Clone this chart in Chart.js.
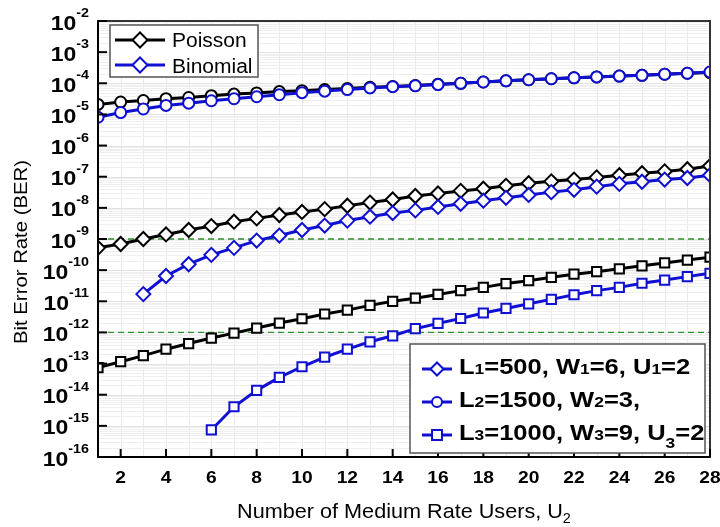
<!DOCTYPE html>
<html>
<head>
<meta charset="utf-8">
<script src="https://cdn.jsdelivr.net/npm/chart.js@4.4.1/dist/chart.umd.min.js"></script>
<style>
  html, body { margin: 0; padding: 0; background: #ffffff; }
  #wrap { width: 720px; height: 527px; position: relative; }
</style>
</head>
<body>
<div id="wrap"><canvas id="ber" width="720" height="527"></canvas></div>
<script>
// Number of medium rate users U2
const users = [1, 2, 3, 4, 5, 6, 7, 8, 9, 10, 11, 12, 13, 14, 15, 16, 17, 18, 19, 20, 21, 22, 23, 24, 25, 26, 27, 28];

// L1=500, W1=6, U1=2 (diamonds)
const poissonL1 = [5.2e-10, 6.9e-10, 1.0e-9, 1.4e-9, 1.95e-9, 2.6e-9, 3.6e-9, 4.6e-9, 5.9e-9, 7.4e-9,
  9.1e-9, 1.17e-8, 1.48e-8, 1.86e-8, 2.4e-8, 2.9e-8, 3.5e-8, 4.1e-8, 5.1e-8, 6.2e-8,
  7.1e-8, 8.1e-8, 9.5e-8, 1.12e-7, 1.29e-7, 1.48e-7, 1.74e-7, 2.2e-7];
const binomialL1Start = 3;
const binomialL1 = [1.7e-11, 6.5e-11, 1.55e-10, 3.1e-10, 5.2e-10, 8.9e-10, 1.29e-9, 1.95e-9,
  2.7e-9, 3.9e-9, 5.2e-9, 6.8e-9, 8.3e-9, 1.07e-8, 1.35e-8, 1.7e-8, 2.1e-8, 2.6e-8,
  3.2e-8, 3.8e-8, 4.8e-8, 5.9e-8, 6.9e-8, 8.1e-8, 9.1e-8, 1.12e-7];

// L2=1500, W2=3 (circles)
const poissonL2 = [2.1e-5, 2.5e-5, 2.8e-5, 3.2e-5, 3.5e-5, 4.0e-5, 4.5e-5, 4.9e-5, 5.4e-5, 5.8e-5,
  6.3e-5, 6.8e-5, 7.4e-5, 7.9e-5, 8.5e-5, 9.3e-5, 1.0e-4, 1.1e-4, 1.2e-4, 1.3e-4,
  1.4e-4, 1.5e-4, 1.6e-4, 1.7e-4, 1.8e-4, 1.95e-4, 2.1e-4, 2.2e-4];
const binomialL2 = [8.1e-6, 1.15e-5, 1.5e-5, 1.95e-5, 2.3e-5, 2.75e-5, 3.2e-5, 3.7e-5, 4.3e-5, 5.0e-5,
  5.6e-5, 6.3e-5, 7.1e-5, 7.8e-5, 8.3e-5, 9.1e-5, 1.0e-4, 1.1e-4, 1.2e-4, 1.3e-4,
  1.4e-4, 1.5e-4, 1.6e-4, 1.7e-4, 1.8e-4, 1.95e-4, 2.1e-4, 2.3e-4];

// L3=1000, W3=9, U3=2 (squares)
const poissonL3 = [7.4e-14, 1.15e-13, 1.8e-13, 2.9e-13, 4.4e-13, 6.6e-13, 9.5e-13, 1.38e-12, 2.0e-12, 2.75e-12,
  3.9e-12, 5.2e-12, 7.4e-12, 1.0e-11, 1.26e-11, 1.66e-11, 2.2e-11, 2.8e-11, 3.7e-11, 4.6e-11,
  5.9e-11, 7.4e-11, 8.9e-11, 1.1e-10, 1.38e-10, 1.7e-10, 2.1e-10, 2.6e-10];
const binomialL3Start = 6;
const binomialL3 = [7.4e-16, 4.1e-15, 1.38e-14, 3.6e-14, 7.9e-14, 1.6e-13, 2.9e-13, 5.0e-13, 7.8e-13,
  1.32e-12, 1.95e-12, 2.8e-12, 4.2e-12, 5.9e-12, 8.3e-12, 1.15e-11, 1.62e-11, 2.2e-11,
  2.8e-11, 3.8e-11, 4.8e-11, 6.2e-11, 7.9e-11];

// BER targets drawn as dashed guides
const thresholds = [1e-9, 1e-12];

// Axis ticks
const yTickExponents = [-2, -3, -4, -5, -6, -7, -8, -9, -10, -11, -12, -13, -14, -15, -16];
const xTickLabels = [2, 4, 6, 8, 10, 12, 14, 16, 18, 20, 22, 24, 26, 28];

const BLACK = '#000000';
const BLUE = '#1010d2';
const GREEN = '#2f8f2f';
const FONT = '"Liberation Sans", Arial, sans-serif';

function pts(values, start) {
  return values.map((v, i) => ({ x: users[i + start - 1], y: v }));
}

function series(values, start, color, style, radius, order) {
  return {
    data: pts(values, start),
    borderColor: color,
    borderWidth: 3,
    pointStyle: style,
    pointRadius: radius,
    pointBorderWidth: 2,
    pointBackgroundColor: '#ffffff',
    pointBorderColor: color,
    tension: 0,
    clip: 0,
    order: order
  };
}

const datasets = [
  series(poissonL1, 1, BLACK, 'rectRot', 7, 2),
  series(binomialL1, binomialL1Start, BLUE, 'rectRot', 7, 1),
  series(poissonL2, 1, BLACK, 'circle', 5.5, 2),
  series(binomialL2, 1, BLUE, 'circle', 5.5, 1),
  series(poissonL3, 1, BLACK, 'rect', 6.5, 2),
  series(binomialL3, binomialL3Start, BLUE, 'rect', 6.5, 1)
];
thresholds.forEach(t => {
  datasets.push({
    data: [{ x: users[0], y: t }, { x: users[users.length - 1], y: t }],
    borderColor: GREEN,
    borderWidth: 1.3,
    borderDash: [6, 4],
    pointRadius: 0,
    order: 5
  });
});

// draw text made of runs (for superscripts/subscripts), with horizontal stretch
function drawRuns(ctx, parts, x, y, align) {
  ctx.textAlign = 'left';
  ctx.textBaseline = 'alphabetic';
  let total = 0;
  parts.forEach(p => {
    ctx.font = p.font;
    p.w = ctx.measureText(p.t).width * (p.sx || 1);
    total += p.w;
  });
  let cx = align === 'center' ? x - total / 2 : align === 'right' ? x - total : x;
  parts.forEach(p => {
    ctx.save();
    ctx.font = p.font;
    ctx.translate(cx, y + (p.dy || 0));
    ctx.scale(p.sx || 1, 1);
    ctx.fillText(p.t, 0, 0);
    ctx.restore();
    cx += p.w;
  });
  return total;
}

function legendMarker(ctx, style, radius, color, x1, x2, y) {
  ctx.save();
  ctx.strokeStyle = color;
  ctx.lineWidth = 3;
  ctx.beginPath();
  ctx.moveTo(x1, y);
  ctx.lineTo(x2, y);
  ctx.stroke();
  ctx.fillStyle = '#ffffff';
  ctx.lineWidth = 2;
  Chart.helpers.drawPoint(ctx, { pointStyle: style, radius: radius, rotation: 0, borderWidth: 2 }, (x1 + x2) / 2, y);
  ctx.restore();
}

const decorations = {
  id: 'decorations',
  beforeDatasetsDraw(chart) {
    const { ctx, chartArea: a, scales: { x, y } } = chart;
    ctx.save();
    ctx.lineWidth = 1;
    // vertical grid at every user count
    ctx.strokeStyle = '#e9e9e9';
    users.forEach(u => {
      const px = Math.round(x.getPixelForValue(u)) + 0.5;
      ctx.beginPath(); ctx.moveTo(px, a.top); ctx.lineTo(px, a.bottom); ctx.stroke();
    });
    // horizontal log grid (minor + major)
    for (let e = -16; e < -2; e++) {
      for (let m = 1; m <= 9; m++) {
        const py = Math.round(y.getPixelForValue(m * Math.pow(10, e))) + 0.5;
        ctx.strokeStyle = m === 1 ? '#e2e2e2' : '#efefef';
        ctx.beginPath(); ctx.moveTo(a.left, py); ctx.lineTo(a.right, py); ctx.stroke();
      }
    }
    ctx.restore();
  },
  afterDatasetsDraw(chart) {
    const { ctx, chartArea: a, scales: { x, y } } = chart;
    ctx.save();
    // plot frame
    ctx.strokeStyle = '#333333';
    ctx.lineWidth = 2;
    ctx.strokeRect(a.left, a.top, a.right - a.left, a.bottom - a.top);
    ctx.strokeStyle = '#000000';
    ctx.beginPath();
    ctx.moveTo(a.left, a.top); ctx.lineTo(a.left, a.bottom); ctx.lineTo(a.right, a.bottom);
    ctx.stroke();

    // inward ticks
    yTickExponents.forEach(e => {
      const py = y.getPixelForValue(Math.pow(10, e));
      ctx.beginPath(); ctx.moveTo(a.left, py); ctx.lineTo(a.left + 9, py); ctx.stroke();
    });
    xTickLabels.forEach(v => {
      const px = x.getPixelForValue(v);
      ctx.beginPath(); ctx.moveTo(px, a.bottom); ctx.lineTo(px, a.bottom - 8); ctx.stroke();
    });

    // tick labels
    ctx.fillStyle = '#000000';
    yTickExponents.forEach(e => {
      const py = y.getPixelForValue(Math.pow(10, e));
      drawRuns(ctx, [
        { t: '10', font: 'bold 20px ' + FONT, sx: 1.15 },
        { t: String(e), font: 'bold 13px ' + FONT, sx: 1.1, dy: -12.5 }
      ], 89, py + 8.5, 'right');
    });
    xTickLabels.forEach(v => {
      const px = x.getPixelForValue(v);
      drawRuns(ctx, [{ t: String(v), font: 'bold 16px ' + FONT, sx: 1.2 }], px, a.bottom + 26, 'center');
    });

    // axis titles
    drawRuns(ctx, [
      { t: 'Number of Medium Rate Users, U', font: '21px ' + FONT, sx: 1.03 },
      { t: '2', font: '14px ' + FONT, sx: 1.03, dy: 5 }
    ], (a.left + a.right) / 2, 518, 'center');
    ctx.save();
    ctx.translate(27, 252);
    ctx.rotate(-Math.PI / 2);
    drawRuns(ctx, [{ t: 'Bit Error Rate (BER)', font: '19px ' + FONT, sx: 1.07 }], 0, 0, 'center');
    ctx.restore();

    // model legend (top left)
    ctx.fillStyle = '#ffffff';
    ctx.fillRect(110, 25, 148, 52);
    ctx.strokeStyle = '#555555';
    ctx.lineWidth = 1.5;
    ctx.strokeRect(110, 25, 148, 52);
    legendMarker(ctx, 'rectRot', 7.5, BLACK, 115, 165, 40);
    legendMarker(ctx, 'rectRot', 7.5, BLUE, 115, 165, 65);
    ctx.fillStyle = '#000000';
    drawRuns(ctx, [{ t: 'Poisson', font: '20px ' + FONT, sx: 1.05 }], 172, 47, 'left');
    drawRuns(ctx, [{ t: 'Binomial', font: '20px ' + FONT, sx: 1.05 }], 172, 72.5, 'left');

    // parameter legend (bottom right)
    ctx.fillStyle = '#ffffff';
    ctx.fillRect(410, 344, 295, 109);
    ctx.strokeStyle = '#555555';
    ctx.lineWidth = 1.5;
    ctx.strokeRect(410, 344, 295, 109);
    legendMarker(ctx, 'rectRot', 6.5, BLUE, 422, 452, 369);
    legendMarker(ctx, 'circle', 5, BLUE, 422, 452, 402);
    legendMarker(ctx, 'rect', 7, BLUE, 422, 452, 435);
    ctx.fillStyle = '#000000';
    const B = 'bold 22px ' + FONT, SB = 'bold 15px ' + FONT, SX = 1.16;
    drawRuns(ctx, [
      { t: 'L', font: B, sx: SX }, { t: '1', font: SB, sx: SX }, { t: '=500, W', font: B, sx: SX },
      { t: '1', font: SB, sx: SX }, { t: '=6, U', font: B, sx: SX }, { t: '1', font: SB, sx: SX },
      { t: '=2', font: B, sx: SX }
    ], 459, 374, 'left');
    drawRuns(ctx, [
      { t: 'L', font: B, sx: SX }, { t: '2', font: SB, sx: SX }, { t: '=1500, W', font: B, sx: SX },
      { t: '2', font: SB, sx: SX }, { t: '=3,', font: B, sx: SX }
    ], 459, 407, 'left');
    drawRuns(ctx, [
      { t: 'L', font: B, sx: SX }, { t: '3', font: SB, sx: SX }, { t: '=1000, W', font: B, sx: SX },
      { t: '3', font: SB, sx: SX }, { t: '=9, U', font: B, sx: SX }, { t: '3', font: SB, sx: SX, dy: 8 },
      { t: '=2', font: B, sx: SX }
    ], 459, 440, 'left');
    ctx.restore();
  }
};

new Chart(document.getElementById('ber'), {
  type: 'line',
  data: { datasets: datasets },
  options: {
    responsive: false,
    animation: false,
    devicePixelRatio: 1,
    layout: { padding: { left: 98, right: 10, top: 21, bottom: 70 } },
    plugins: { legend: { display: false }, tooltip: { enabled: false } },
    scales: {
      x: { type: 'linear', min: 1, max: 28, display: false },
      y: { type: 'logarithmic', min: 1e-16, max: 1e-2, display: false }
    }
  },
  plugins: [decorations]
});
</script>
</body>
</html>
